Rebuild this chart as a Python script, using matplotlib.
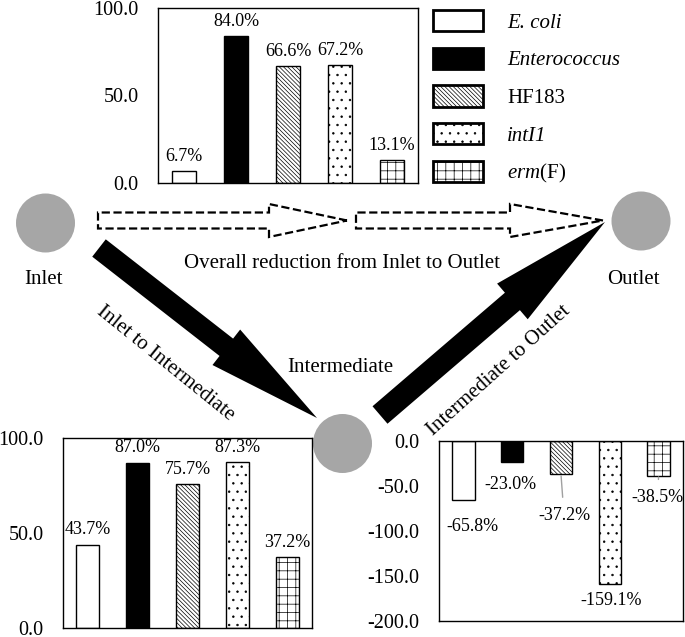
import numpy as np
import matplotlib
matplotlib.use('Agg')
import matplotlib.pyplot as plt
from matplotlib.patches import Circle, FancyArrow, Patch
from matplotlib.ticker import FormatStrFormatter

plt.rcParams['font.family'] = ['Liberation Serif', 'DejaVu Serif']
plt.rcParams['mathtext.fontset'] = 'custom'
plt.rcParams['mathtext.rm'] = 'Liberation Serif'
plt.rcParams['mathtext.it'] = 'Liberation Serif:italic'
plt.rcParams['hatch.linewidth'] = 0.5

# data
targets = ['E. coli', 'Enterococcus', 'HF183', 'intI1', r'$erm$(F)']
target_italic = [True, True, False, True, False]
overall = [6.7, 84.0, 66.6, 67.2, 13.1]          # Inlet -> Outlet
inlet_mid = [43.7, 87.0, 75.7, 87.3, 37.2]       # Inlet -> Intermediate
mid_outlet = [-65.8, -23.0, -37.2, -159.1, -38.5]  # Intermediate -> Outlet

faces = ['white', 'black', 'white', 'white', 'white']
hatches = ['', '', '\\' * 8, '..', '++']

W, H = 685, 637
fig = plt.figure(figsize=(W / 100, H / 100), dpi=100)

# background canvas in pixel units for circles / arrows / labels
bg = fig.add_axes([0, 0, 1, 1])
bg.set_xlim(0, W)
bg.set_ylim(H, 0)
bg.axis('off')

grey = '#a6a6a6'
for cx, cy in [(45.5, 223), (641, 221), (342.5, 443.5)]:
    bg.add_patch(Circle((cx, cy), 29.5, color=grey, lw=0))

# dashed arrows (overall)
bg.add_patch(FancyArrow(98, 220.5, 249, 0, width=16, head_width=33, head_length=78,
                        length_includes_head=True, fill=False, ls='--', lw=1.6, ec='black'))
bg.add_patch(FancyArrow(356, 220.5, 247, 0, width=16, head_width=33, head_length=93,
                        length_includes_head=True, fill=False, ls='--', lw=1.6, ec='black'))
# solid arrows
bg.add_patch(FancyArrow(99, 248, 218, 170, width=22, head_width=45, head_length=115,
                        length_includes_head=True, color='black', lw=0))
bg.add_patch(FancyArrow(380, 415, 225, -193, width=23, head_width=47, head_length=122,
                        length_includes_head=True, color='black', lw=0))

fs = 15
bg.text(44, 280, 'Inlet', ha='center', va='center', fontsize=fs)
bg.text(633, 279, 'Outlet', ha='center', va='center', fontsize=fs)
bg.text(342, 263, 'Overall reduction from Inlet to Outlet', ha='center', va='center', fontsize=fs)
bg.text(340, 367, 'Intermediate', ha='center', va='center', fontsize=fs)
bg.text(165, 363, 'Inlet to Intermediate', ha='center', va='center', fontsize=fs,
        rotation=-39, rotation_mode='anchor')
bg.text(499, 371, 'Intermediate to Outlet', ha='center', va='center', fontsize=fs,
        rotation=42, rotation_mode='anchor')


def px_axes(x0, y0, x1, y1):
    return fig.add_axes([x0 / W, 1 - y1 / H, (x1 - x0) / W, (y1 - y0) / H])


def bar_panel(ax, vals, ylim, yticks):
    x = np.arange(len(vals))
    bars = ax.bar(x, vals, width=0.46, color=faces, edgecolor='black', lw=1.0)
    for b, h in zip(bars, hatches):
        b.set_hatch(h)
    ax.set_xlim(-0.5, len(vals) - 0.5)
    ax.set_ylim(*ylim)
    ax.set_yticks(yticks)
    ax.yaxis.set_major_formatter(FormatStrFormatter('%.1f'))
    ax.set_xticks([])
    ax.tick_params(axis='y', length=0, pad=14, labelsize=14.5)
    for s in ax.spines.values():
        s.set_linewidth(1.0)
    return x


lfs = 13

ax1 = px_axes(158, 8, 418, 183)
x = bar_panel(ax1, overall, (0, 100), [0, 50, 100])
for i, v in zip(x, overall):
    ax1.annotate(f'{v:.1f}%', (i, v), xytext=(0, 15), textcoords='offset pixels',
                 ha='center', va='center', fontsize=lfs)

ax2 = px_axes(63, 438, 312, 628)
x = bar_panel(ax2, inlet_mid, (0, 100), [0, 50, 100])
for i, v in zip(x, inlet_mid):
    ax2.annotate(f'{v:.1f}%', (i, v), xytext=(0, 15), textcoords='offset pixels',
                 ha='center', va='center', fontsize=lfs)

ax3 = px_axes(439, 441, 683, 621)
x = bar_panel(ax3, mid_outlet, (-200, 0), [-200, -150, -100, -50, 0])
lab_dx = [9, -2, 3, 1, -1]
lab_dy = [26, 23, 41, 16, 22]
leader = [False, False, True, False, True]
for i, v, dx, dy, ld in zip(x, mid_outlet, lab_dx, lab_dy, leader):
    if ld:
        ax3.annotate(f'{v:.1f}%', (i, v), xytext=(dx, -dy), textcoords='offset pixels',
                     ha='center', va='center', fontsize=lfs,
                     arrowprops=dict(arrowstyle='-', color='#a0a0a0', lw=1.0,
                                     shrinkA=5, shrinkB=1))
    else:
        ax3.annotate(f'{v:.1f}%', (i, v), xytext=(dx, -dy), textcoords='offset pixels',
                     ha='center', va='center', fontsize=lfs)

handles = [Patch(facecolor=f, edgecolor='black', hatch=h, lw=2) for f, h in zip(faces, hatches)]
leg = fig.legend(handles, targets, loc='upper left', bbox_to_anchor=(433 / W, 1 - 10 / H),
                 frameon=False, fontsize=fs, handlelength=2.4, handleheight=1.2,
                 handletextpad=1.15, labelspacing=0.72, borderpad=0, borderaxespad=0)
for t, it in zip(leg.get_texts(), target_italic):
    if it:
        t.set_fontstyle('italic')

fig.savefig('out.png', dpi=100)
